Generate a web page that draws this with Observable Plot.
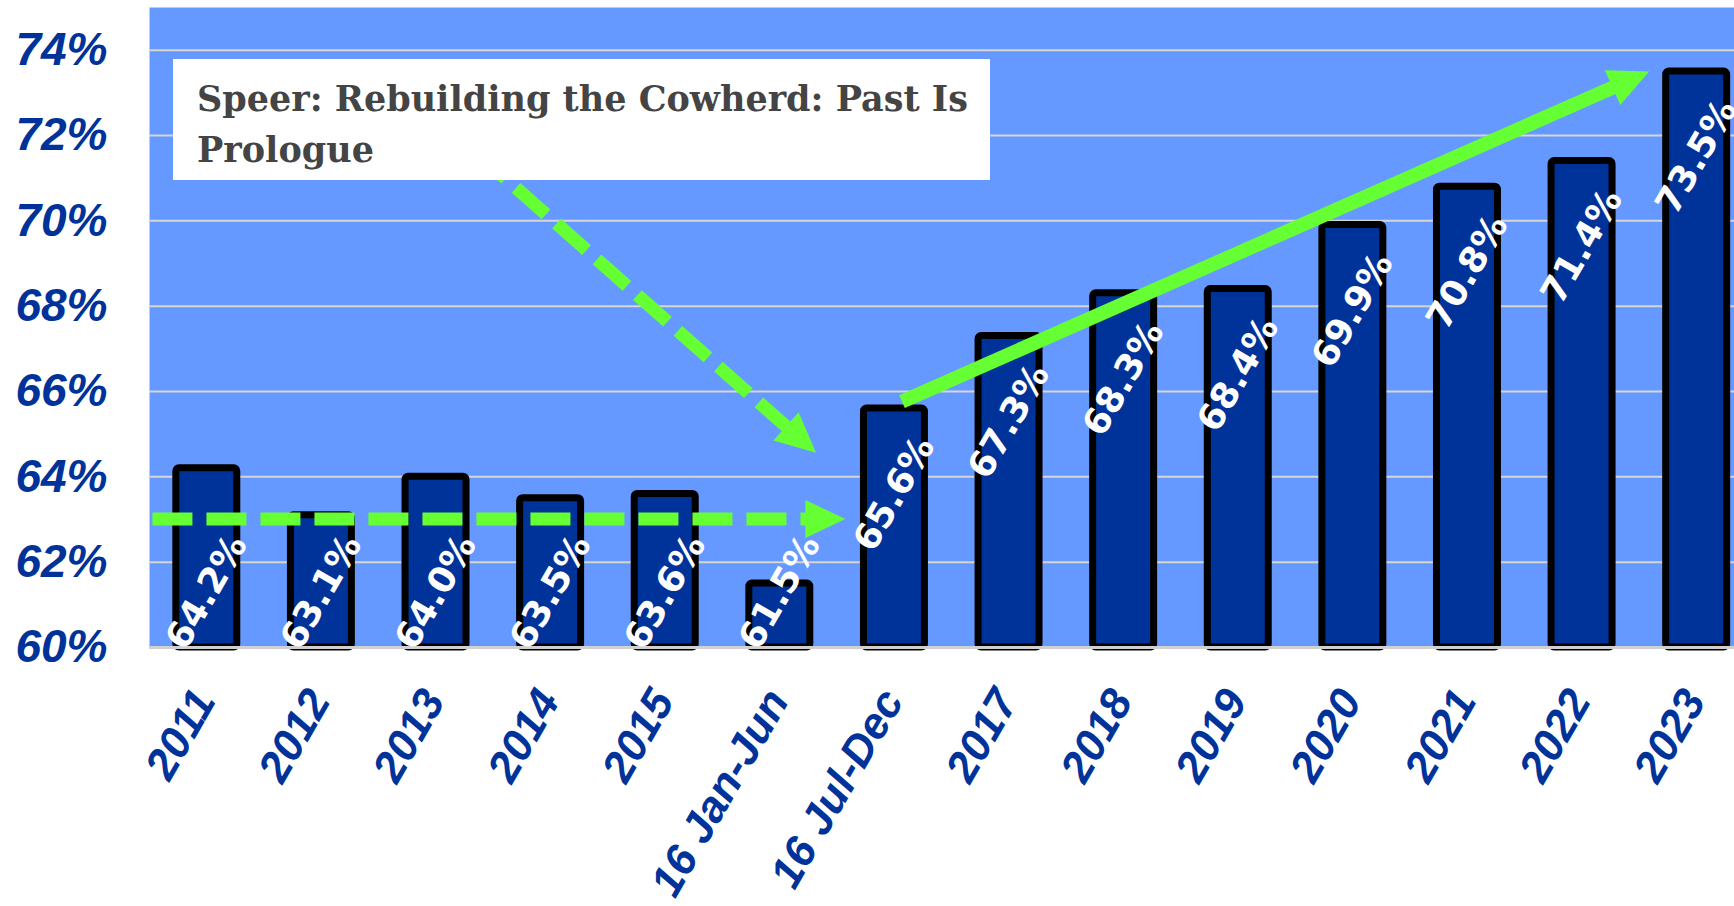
<!DOCTYPE html>
<html>
<head>
<meta charset="utf-8">
<script src="https://cdn.jsdelivr.net/npm/d3@7"></script>
<script src="https://cdn.jsdelivr.net/npm/@observablehq/plot@0.6"></script>
<style>
  html, body { margin: 0; padding: 0; background: white; overflow: hidden; }
  #wrap { position: relative; width: 1734px; height: 906px; }
  #note {
    position: absolute; left: 173px; top: 59px; width: 817px; height: 121px;
    background: white; box-sizing: border-box; padding: 14px 0 0 24px;
    font-family: "DejaVu Serif", serif; font-weight: bold; font-size: 35px;
    line-height: 51px; color: #444444;
  }
</style>
</head>
<body>
<div id="wrap">
  <div id="chart"></div>
  <div id="note">Speer: Rebuilding the Cowherd: Past Is<br>Prologue</div>
</div>
<script>
// ---- data ----
const categories = ["2011", "2012", "2013", "2014", "2015", "16 Jan-Jun", "16 Jul-Dec",
                    "2017", "2018", "2019", "2020", "2021", "2022", "2023"];
const values = [64.2, 63.1, 64.0, 63.5, 63.6, 61.5, 65.6, 67.3, 68.3, 68.4, 69.9, 70.8, 71.4, 73.5];
const yTicks = [60, 62, 64, 66, 68, 70, 72, 74];

// annotation arrows (category index, percent)
const arrowFromX = [-0.47, 2.35, 6.07];
const arrowFromY = [63.0, 71.6, 65.75];
const arrowToX   = [5.576, 5.32, 12.59];
const arrowToY   = [63.0, 64.55, 73.49];
const arrowDashed = [true, true, false];

const data = categories.map((c, i) => ({i, category: c, value: values[i]}));

const GREEN = "#66ff33";
const NAVY = "#003399";

function arrowsMark(index, scales) {
  const {x, y} = scales;
  const g = d3.create("svg:g");
  const headLen = 40, headHalf = 19;
  for (let k = 0; k < arrowFromX.length; ++k) {
    const x1 = x(arrowFromX[k]), y1 = y(arrowFromY[k]);
    const x2 = x(arrowToX[k]), y2 = y(arrowToY[k]);
    const dx = x2 - x1, dy = y2 - y1, len = Math.hypot(dx, dy);
    const ux = dx / len, uy = dy / len;
    const bx = x2 - ux * headLen, by = y2 - uy * headLen;
    g.append("line")
      .attr("x1", x1).attr("y1", y1).attr("x2", bx + ux * 2).attr("y2", by + uy * 2)
      .attr("stroke", GREEN)
      .attr("stroke-width", arrowDashed[k] ? 13 : 14)
      .attr("stroke-dasharray", arrowDashed[k] ? "40,14" : null);
    g.append("path")
      .attr("d", `M${x2},${y2}L${bx - uy * headHalf},${by + ux * headHalf}L${bx + uy * headHalf},${by - ux * headHalf}Z`)
      .attr("fill", GREEN);
  }
  return g.node();
}

const chart = Plot.plot({
  width: 1734,
  height: 906,
  marginLeft: 149,
  marginRight: 0,
  marginTop: 7,
  marginBottom: 259,
  style: {background: "white", overflow: "hidden"},
  x: {type: "linear", domain: [-0.5, 13.33], axis: null},
  y: {domain: [60, 75], axis: null},
  marks: [
    Plot.frame({fill: "#6699ff", stroke: null}),
    Plot.ruleY(yTicks.filter(t => t > 60), {stroke: "#d6d6d6", strokeWidth: 2}),
    Plot.rect(data, {
      x1: d => d.i - 0.266, x2: d => d.i + 0.266,
      y1: 60, y2: "value",
      fill: NAVY, stroke: "black", strokeWidth: 7, rx: 3
    }),
    Plot.ruleY([60], {stroke: "#d0d0d0", strokeWidth: 3}),
    Plot.text(data, {
      x: "i",
      // labels of short bars sit at the base, the others just inside the top
      y: d => d.value < 65 ? 61.3 : d.value - 2,
      text: d => d.value.toFixed(1) + "%",
      rotate: -60,
      fill: "white",
      fontSize: 36,
      fontWeight: "bold",
      fontFamily: "DejaVu Sans, sans-serif"
    }),
    arrowsMark,
    Plot.axisY({
      ticks: yTicks,
      tickFormat: d => d + "%",
      tickSize: 0,
      tickPadding: 42,
      label: null,
      fontSize: 46,
      fontWeight: "bold",
      fontStyle: "italic",
      fontFamily: "Liberation Sans, Arial, sans-serif",
      color: NAVY
    }),
    Plot.axisX({
      ticks: d3.range(categories.length),
      tickFormat: i => categories[i],
      tickSize: 0,
      tickRotate: -60,
      tickPadding: 53,
      textAnchor: "end",
      lineAnchor: "bottom",
      label: null,
      dx: 10,
      fontSize: 44,
      fontWeight: "bold",
      fontStyle: "italic",
      fontFamily: "Liberation Sans, Arial, sans-serif",
      color: NAVY
    })
  ]
});
document.getElementById("chart").appendChild(chart);
</script>
</body>
</html>
